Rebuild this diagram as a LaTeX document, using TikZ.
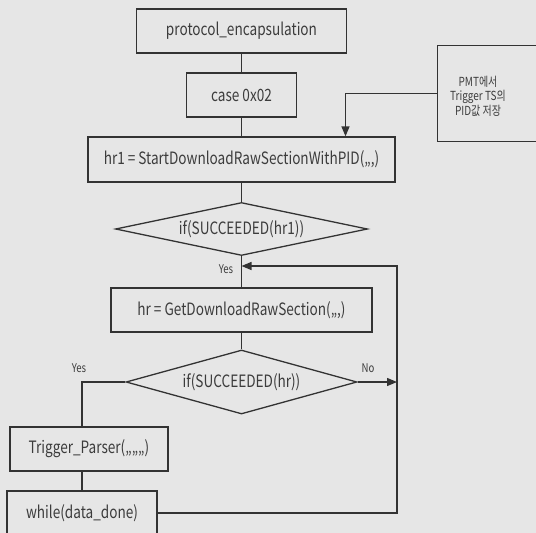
\documentclass[tikz,border=0pt]{standalone}
\usepackage{fontspec}
\setmainfont[FakeStretch=0.8]{Noto Sans CJK KR}
\usetikzlibrary{shapes.geometric,arrows.meta}
\definecolor{bg}{HTML}{E6E6E6}
\definecolor{ink}{HTML}{333333}
\definecolor{txt}{HTML}{3C3C3C}
\begin{document}
\begin{tikzpicture}[x=1pt,y=-1pt,
  box/.style={draw=ink, line width=1.3pt, minimum height=44, inner sep=0, text=txt, font=\fontsize{17}{19}\selectfont},
  dec/.style={draw=ink, line width=1.3pt, shape=diamond, inner sep=0, text=txt, font=\fontsize{17}{19}\selectfont},
  conn/.style={draw=ink, line width=1.3pt},
  arr/.style={conn, -{Triangle[length=10pt,width=8pt]}},
  lbl/.style={text=txt, font=\fontsize{12}{14}\selectfont, inner sep=0}]
\fill[bg] (0,0) rectangle (536,533);
\clip (0,0) rectangle (536,533);
\useasboundingbox (0,0) rectangle (536,533);
\node[box, minimum width=210] (proto) at (241.5,31) {protocol\_encapsulation};
\node[box, minimum width=110] (case) at (241.5,95) {case 0x02};
\node[box, minimum width=307, minimum height=45] (hr1) at (241.5,159.5) {hr1 = StartDownloadRawSectionWithPID(,,,)};
\node[dec, minimum width=252, minimum height=53, aspect=4.75] (d1) at (241.5,229) {if(SUCCEEDED(hr1))};
\node[box, minimum width=261] (hr) at (241.5,310) {hr = GetDownloadRawSection(,,,)};
\node[dec, minimum width=231, minimum height=64, aspect=3.6] (d2) at (241.5,382) {if(SUCCEEDED(hr))};
\node[box, minimum width=158] (tp) at (89,449) {Trigger\_Parser(,,,,,,)};
\node[box, minimum width=150] (wd) at (82,513) {while(data\_done)};
\node[draw=ink, line width=1.3pt, minimum width=110, minimum height=96, anchor=north west, inner sep=0] (pmt) at (437,45) {};
\node[text=txt, align=center, font=\fontsize{12.5}{14.5}\selectfont, inner sep=0] (pmtt) at (478,96) {PMT에서\\Trigger TS의\\PID값 저장};
\coordinate (r) at (397,266);
\coordinate (j) at (241.5,266);
\coordinate (ne) at (397,382);
\draw[conn] (proto) -- (case);
\draw[conn] (case) -- (hr1);
\draw[conn] (hr1) -- (d1);
\draw[conn] (d1.south) -- (hr.north);
\draw[arr] (pmt.west) -| ([xshift=104pt]hr1.north);
\draw[conn] (hr) -- (d2);
\draw[arr] (d2.east) -- (ne);
\draw[conn] (d2.west) -| (tp.north -| wd.north);
\draw[conn] (tp.south -| wd.north) -- (wd.north);
\draw[arr] (wd.east) -| (r) -- (j);
\node[lbl] (yes1) at (226,269) {Yes};
\node[lbl] (yes2) at (79,368) {Yes};
\node[lbl] (no) at (368,368) {No};
\end{tikzpicture}
\end{document}
